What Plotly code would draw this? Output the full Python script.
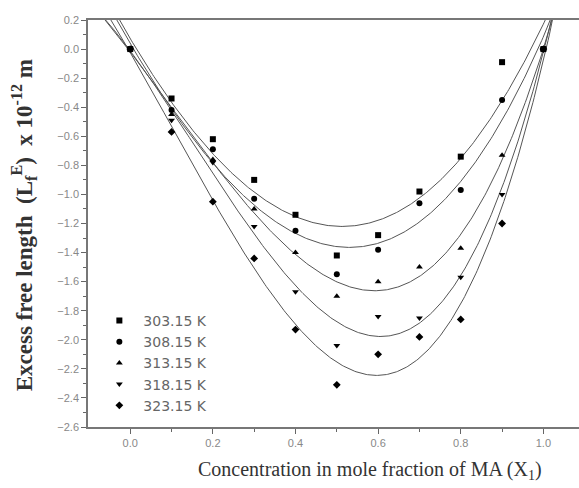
import numpy as np
import plotly.graph_objects as go

x_frac = [0.0, 0.1, 0.2, 0.3, 0.4, 0.5, 0.6, 0.7, 0.8, 0.9, 1.0]
labels = ["303.15 K", "308.15 K", "313.15 K", "318.15 K", "323.15 K"]
lf_303 = [0.0, -0.34, -0.62, -0.90, -1.14, -1.42, -1.28, -0.98, -0.74, -0.09, 0.0]
lf_308 = [0.0, -0.42, -0.69, -1.03, -1.25, -1.55, -1.38, -1.06, -0.97, -0.35, 0.0]
lf_313 = [0.0, -0.45, -0.76, -1.10, -1.40, -1.70, -1.60, -1.50, -1.37, -0.73, 0.0]
lf_318 = [0.0, -0.49, -0.78, -1.22, -1.67, -2.04, -1.84, -1.85, -1.57, -1.00, 0.0]
lf_323 = [0.0, -0.57, -1.05, -1.44, -1.93, -2.31, -2.10, -1.98, -1.86, -1.20, 0.0]
symbols = ["square", "circle", "triangle-up", "triangle-down", "diamond"]
fit_degree = 3

series = [lf_303, lf_308, lf_313, lf_318, lf_323]

fig = go.Figure()
xs = np.linspace(-0.12, 1.1, 400)
for ys in series:
    c = np.polyfit(x_frac, ys, fit_degree)
    fig.add_trace(go.Scatter(x=xs, y=np.polyval(c, xs), mode="lines",
                             line=dict(color="#555555", width=1), showlegend=False,
                             hoverinfo="skip"))
for ys, lab, sym in zip(series, labels, symbols):
    fig.add_trace(go.Scatter(x=x_frac, y=ys, mode="markers", name=lab,
                             marker=dict(symbol=sym, size=6, color="black")))

fig.update_layout(
    width=579, height=488,
    margin=dict(l=88, r=0, t=20, b=61),
    paper_bgcolor="white", plot_bgcolor="white",
    showlegend=True,
    legend=dict(x=0.015, y=0.30, xanchor="left", yanchor="top",
                bgcolor="rgba(0,0,0,0)", font=dict(family="DejaVu Sans", size=14, color="#666666"),
                itemwidth=38),
    font=dict(family="Liberation Serif", color="#222222"),
    annotations=[
        dict(text="Concentration in mole fraction of MA (X<sub>1</sub>)",
             xref="paper", yref="paper", x=0.574, y=-0.072, xanchor="center", yanchor="top",
             showarrow=False, font=dict(family="Liberation Serif", size=20, color="#333333")),
        dict(text="<b>Excess free length  (L<sub>f</sub><sup>E</sup>)  x 10<sup>-12</sup> m</b>",
             xref="paper", yref="paper", x=-0.132, y=0.496, xanchor="center", yanchor="middle",
             textangle=-90, showarrow=False,
             font=dict(family="Liberation Serif", size=23, color="#333333")),
    ],
)
fig.update_xaxes(range=[-0.1022, 1.0862], tickvals=[0, 0.2, 0.4, 0.6, 0.8, 1.0],
                 ticktext=["0.0", "0.2", "0.4", "0.6", "0.8", "1.0"],
                 ticks="outside", ticklen=5, tickcolor="#666666",
                 minor=dict(tickvals=[0.1, 0.3, 0.5, 0.7, 0.9], ticks="outside", ticklen=3, tickcolor="#666666"),
                 showline=True, linecolor="#777777", linewidth=1.5, mirror=True,
                 showgrid=False, zeroline=False,
                 tickfont=dict(family="Liberation Sans", size=11, color="#888888"))
fig.update_yaxes(range=[-2.6, 0.2], dtick=0.2, tickformat=".1f",
                 ticks="outside", ticklen=5, tickcolor="#666666",
                 minor=dict(dtick=0.1, ticks="outside", ticklen=3, tickcolor="#666666"),
                 showline=True, linecolor="#777777", linewidth=1.5,
                 showgrid=False, zeroline=False,
                 tickfont=dict(family="Liberation Sans", size=11, color="#888888"))

fig.write_html("out.html")
